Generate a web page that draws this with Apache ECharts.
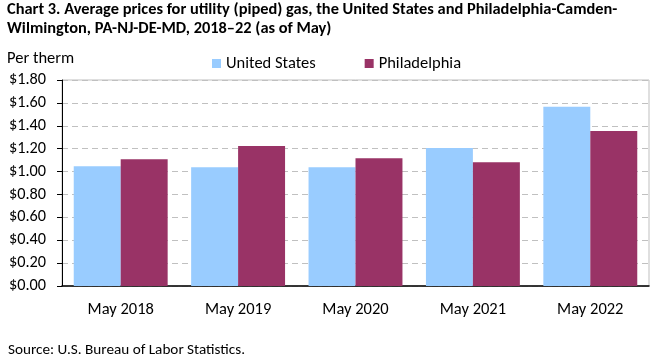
<!DOCTYPE html>
<html><head><meta charset="utf-8">
<script src="https://cdn.jsdelivr.net/npm/echarts@6/dist/echarts.min.js"></script>
<style>html,body{margin:0;padding:0;background:#fff}#c{width:661px;height:361px}</style>
</head><body><div id="c"></div>
<script>
const categories = ['May 2018', 'May 2019', 'May 2020', 'May 2021', 'May 2022'];
const usValues = [1.047, 1.038, 1.038, 1.205, 1.566];
const philaValues = [1.108, 1.223, 1.117, 1.082, 1.355];
const seriesNames = ['United States', 'Philadelphia'];
const FONT = 'Carlito, Lato, "Liberation Sans", sans-serif';
const chart = echarts.init(document.getElementById('c'));
chart.setOption({
  animation: false,
  textStyle: { fontFamily: FONT },
  title: {
    text: 'Chart 3. Average prices for utility (piped) gas, the United States and Philadelphia-Camden-\nWilmington, PA-NJ-DE-MD, 2018\u201322 (as of May)',
    left: 7, top: 0, padding: 0,
    textStyle: { fontFamily: FONT, fontSize: 16.4, fontWeight: 'bold', color: '#000', lineHeight: 19 }
  },
  legend: {
    data: seriesNames,
    top: 50, left: 207,
    itemWidth: 9, itemHeight: 9, itemGap: 49,
    icon: 'rect',
    textStyle: { fontFamily: FONT, fontSize: 16.5, color: '#000' }
  },
  graphic: [
    { type: 'text', left: 7, top: 50, style: { text: 'Per therm', font: '16.5px ' + FONT, fill: '#000' } },
    { type: 'text', left: 8, top: 343, style: { text: 'Source: U.S. Bureau of Labor Statistics.', font: '15.2px ' + FONT, fill: '#000' } }
  ],
  grid: { left: 62, right: 12, top: 80, bottom: 75, show: true, borderColor: '#bfbfbf', borderWidth: 1, containLabel: false },
  xAxis: {
    type: 'category', data: categories,
    axisLine: { lineStyle: { color: '#000', width: 1.5 } },
    axisTick: { show: false },
    axisLabel: { fontFamily: FONT, fontSize: 16.5, color: '#000', margin: 15 }
  },
  yAxis: {
    type: 'value', min: 0, max: 1.8, interval: 0.2,
    axisLine: { show: true, lineStyle: { color: '#000', width: 1 } },
    axisTick: { show: true, length: 5, lineStyle: { color: '#000' } },
    axisLabel: { fontFamily: FONT, fontSize: 16.3, color: '#000', margin: 16, formatter: v => '$' + v.toFixed(2) },
    splitLine: { lineStyle: { color: '#c0c0c0', type: [6, 4] } }
  },
  series: [
    { name: seriesNames[0], type: 'bar', data: usValues, itemStyle: { color: '#99ccff' }, barGap: '0%', barCategoryGap: '20%' },
    { name: seriesNames[1], type: 'bar', data: philaValues, itemStyle: { color: '#993366' }, barGap: '0%', barCategoryGap: '20%' }
  ]
});
</script></body></html>
